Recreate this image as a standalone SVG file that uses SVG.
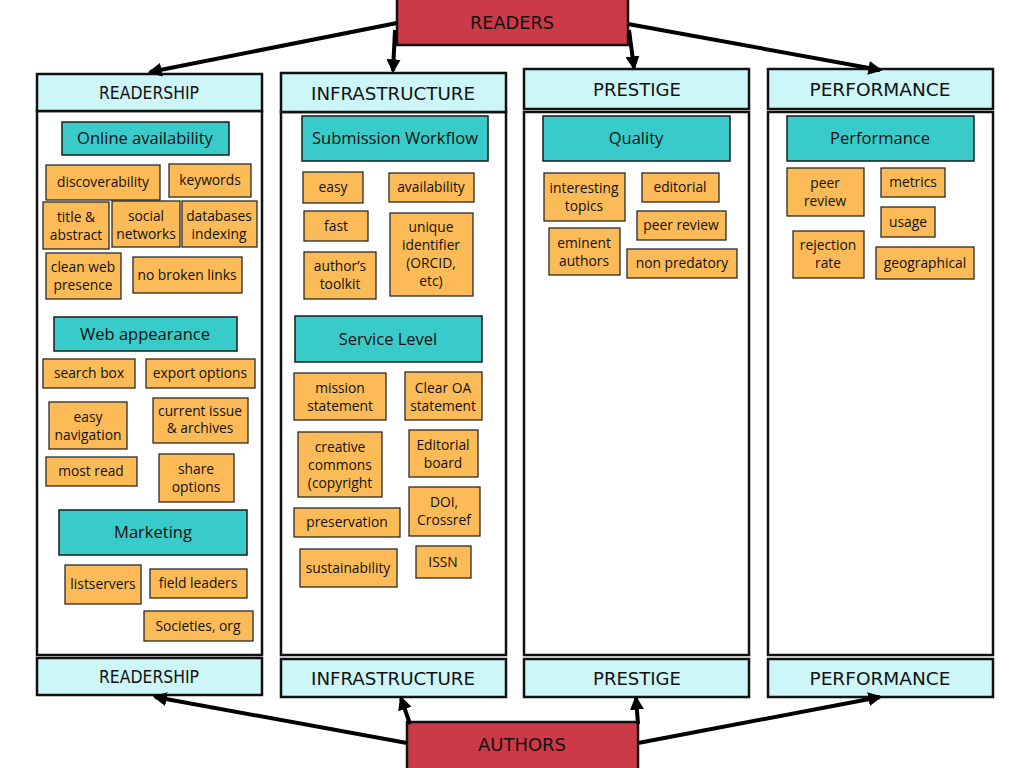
<svg xmlns="http://www.w3.org/2000/svg" width="1024" height="768" viewBox="0 0 1024 768">
<style>
.bg{fill:#ffffff}
.col{fill:#ffffff;stroke:#111;stroke-width:2.5}
.hdr{fill:#ccf6f7;stroke:#111;stroke-width:2.5}
.main{fill:#cc3a48;stroke:#111;stroke-width:2.5}
.cat{fill:#39cbca;stroke:#1a1a1a;stroke-width:1.5}
.it{fill:#fdbb57;stroke:#2a2a2a;stroke-width:1.3}
.ht{font-family:"DejaVu Sans Condensed","DejaVu Sans",sans-serif;font-size:18px;fill:#111;text-anchor:middle}
.ct{font-family:"Open Sans","Noto Sans",sans-serif;font-size:16.5px;fill:#111;text-anchor:middle}
.tt{font-family:"Open Sans","Noto Sans",sans-serif;font-size:13.8px;fill:#111;text-anchor:middle}
.con{stroke:#000;stroke-width:4;fill:none;marker-end:url(#ah)}
</style>
<defs>
<marker id="ah" viewBox="0 0 12 12" refX="10" refY="6" markerWidth="14" markerHeight="14" orient="auto" markerUnits="userSpaceOnUse"><path d="M0,0 L12,6 L0,12 z" fill="#000"/></marker>
</defs>
<rect class="bg" x="0" y="0" width="1024" height="768"/>

<g id="col-readership">
<rect class="col" x="37" y="111" width="225" height="544"/>
<rect class="hdr" x="37" y="74" width="225" height="37"/>
<text class="ht" x="149" y="99" font-size="16" textLength="100" lengthAdjust="spacingAndGlyphs">READERSHIP</text>
<rect class="hdr" x="37" y="658" width="225" height="37"/>
<text class="ht" x="149" y="683" font-size="16" textLength="100" lengthAdjust="spacingAndGlyphs">READERSHIP</text>
</g>
<g id="col-infrastructure">
<rect class="col" x="281" y="112" width="225" height="543"/>
<rect class="hdr" x="281" y="73" width="225" height="39"/>
<text class="ht" x="393" y="100" textLength="164" lengthAdjust="spacingAndGlyphs">INFRASTRUCTURE</text>
<rect class="hdr" x="281" y="659" width="225" height="38"/>
<text class="ht" x="393" y="685" textLength="164" lengthAdjust="spacingAndGlyphs">INFRASTRUCTURE</text>
</g>
<g id="col-prestige">
<rect class="col" x="524" y="112" width="225" height="543"/>
<rect class="hdr" x="524" y="69" width="225" height="40"/>
<text class="ht" x="637" y="96" textLength="88" lengthAdjust="spacingAndGlyphs">PRESTIGE</text>
<rect class="hdr" x="524" y="659" width="225" height="38"/>
<text class="ht" x="637" y="685" textLength="88" lengthAdjust="spacingAndGlyphs">PRESTIGE</text>
</g>
<g id="col-performance">
<rect class="col" x="768" y="112" width="225" height="543"/>
<rect class="hdr" x="768" y="69" width="225" height="40"/>
<text class="ht" x="880" y="96" textLength="141" lengthAdjust="spacingAndGlyphs">PERFORMANCE</text>
<rect class="hdr" x="768" y="659" width="225" height="38"/>
<text class="ht" x="880" y="685" textLength="141" lengthAdjust="spacingAndGlyphs">PERFORMANCE</text>
</g>

<g id="readers">
<rect class="main" x="397" y="-2" width="231" height="47"/>
<text class="ht" x="512" y="29" textLength="84" lengthAdjust="spacingAndGlyphs">READERS</text>
</g>
<g id="authors">
<rect class="main" x="407" y="722" width="231" height="48"/>
<text class="ht" x="522" y="751" textLength="88" lengthAdjust="spacingAndGlyphs">AUTHORS</text>
</g>

<g id="connectors">
<line class="con" x1="397" y1="23" x2="150" y2="72"/>
<line class="con" x1="395" y1="30" x2="393" y2="71"/>
<line class="con" x1="629" y1="30" x2="634" y2="68"/>
<line class="con" x1="628" y1="24" x2="880" y2="70"/>
<line class="con" x1="407" y1="743" x2="155" y2="697"/>
<line class="con" x1="410" y1="724" x2="401" y2="698"/>
<line class="con" x1="638" y1="724" x2="636" y2="698"/>
<line class="con" x1="638" y1="743" x2="880" y2="697"/>
</g>

<!-- Column 1 -->
<g id="online-availability"><rect class="cat" x="62" y="122" width="167" height="33"/><text class="ct" x="145" y="144">Online availability</text></g>
<g id="discoverability"><rect class="it" x="46" y="165" width="114" height="35"/><text class="tt" x="103" y="187">discoverability</text></g>
<g id="keywords"><rect class="it" x="169" y="164" width="82" height="33"/><text class="tt" x="210" y="185">keywords</text></g>
<g id="title-abstract"><rect class="it" x="43" y="202" width="66" height="47"/><text class="tt" x="76" y="222">title &amp;</text><text class="tt" x="76" y="240">abstract</text></g>
<g id="social-networks"><rect class="it" x="112" y="201" width="68" height="46"/><text class="tt" x="146" y="221">social</text><text class="tt" x="146" y="239">networks</text></g>
<g id="databases-indexing"><rect class="it" x="182" y="201" width="75" height="46"/><text class="tt" x="219" y="221">databases</text><text class="tt" x="219" y="239">indexing</text></g>
<g id="clean-web"><rect class="it" x="46" y="253" width="75" height="46"/><text class="tt" x="83" y="272">clean web</text><text class="tt" x="83" y="290">presence</text></g>
<g id="no-broken-links"><rect class="it" x="133" y="257" width="109" height="36"/><text class="tt" x="187" y="280">no broken links</text></g>

<g id="web-appearance"><rect class="cat" x="54" y="317" width="183" height="34"/><text class="ct" x="145" y="340">Web appearance</text></g>
<g id="search-box"><rect class="it" x="43" y="359" width="92" height="29"/><text class="tt" x="89" y="378">search box</text></g>
<g id="export-options"><rect class="it" x="146" y="359" width="109" height="29"/><text class="tt" x="200" y="378">export options</text></g>
<g id="easy-navigation"><rect class="it" x="49" y="402" width="78" height="47"/><text class="tt" x="88" y="422">easy</text><text class="tt" x="88" y="440">navigation</text></g>
<g id="current-issue"><rect class="it" x="153" y="398" width="95" height="45"/><text class="tt" x="200" y="416" font-size="12">current issue</text><text class="tt" x="200" y="433" font-size="12">&amp; archives</text></g>
<g id="most-read"><rect class="it" x="46" y="457" width="91" height="29"/><text class="tt" x="91" y="476">most read</text></g>
<g id="share-options"><rect class="it" x="159" y="454" width="75" height="48"/><text class="tt" x="196" y="474">share</text><text class="tt" x="196" y="492">options</text></g>

<g id="marketing"><rect class="cat" x="59" y="510" width="188" height="45"/><text class="ct" x="153" y="538">Marketing</text></g>
<g id="listservers"><rect class="it" x="65" y="565" width="76" height="39"/><text class="tt" x="103" y="589">listservers</text></g>
<g id="field-leaders"><rect class="it" x="150" y="569" width="97" height="29"/><text class="tt" x="198" y="588">field leaders</text></g>
<g id="societies"><rect class="it" x="144" y="611" width="109" height="30"/><text class="tt" x="198" y="631">Societies, org</text></g>

<!-- Column 2 -->
<g id="submission-workflow"><rect class="cat" x="302" y="116" width="186" height="45"/><text class="ct" x="395" y="144">Submission Workflow</text></g>
<g id="easy"><rect class="it" x="303" y="172" width="60" height="31"/><text class="tt" x="333" y="192">easy</text></g>
<g id="availability"><rect class="it" x="389" y="173" width="85" height="29"/><text class="tt" x="431" y="192">availability</text></g>
<g id="fast"><rect class="it" x="304" y="211" width="64" height="30"/><text class="tt" x="336" y="231">fast</text></g>
<g id="unique-identifier"><rect class="it" x="390" y="213" width="83" height="83"/><text class="tt" x="431" y="232">unique</text><text class="tt" x="431" y="250">identifier</text><text class="tt" x="431" y="268">(ORCID,</text><text class="tt" x="431" y="286">etc)</text></g>
<g id="authors-toolkit"><rect class="it" x="304" y="252" width="72" height="47"/><text class="tt" x="340" y="271">author’s</text><text class="tt" x="340" y="289">toolkit</text></g>

<g id="service-level"><rect class="cat" x="295" y="316" width="187" height="46"/><text class="ct" x="388" y="345">Service Level</text></g>
<g id="mission-statement"><rect class="it" x="294" y="373" width="92" height="47"/><text class="tt" x="340" y="393">mission</text><text class="tt" x="340" y="411">statement</text></g>
<g id="clear-oa"><rect class="it" x="405" y="372" width="77" height="48"/><text class="tt" x="443" y="393">Clear OA</text><text class="tt" x="443" y="411">statement</text></g>
<g id="creative-commons"><rect class="it" x="298" y="432" width="84" height="65"/><text class="tt" x="340" y="452">creative</text><text class="tt" x="340" y="470">commons</text><text class="tt" x="340" y="488">(copyright</text></g>
<g id="editorial-board"><rect class="it" x="409" y="430" width="69" height="47"/><text class="tt" x="443" y="450">Editorial</text><text class="tt" x="443" y="468">board</text></g>
<g id="preservation"><rect class="it" x="294" y="508" width="106" height="29"/><text class="tt" x="347" y="527">preservation</text></g>
<g id="doi-crossref"><rect class="it" x="409" y="487" width="71" height="49"/><text class="tt" x="444" y="507">DOI,</text><text class="tt" x="444" y="525">Crossref</text></g>
<g id="sustainability"><rect class="it" x="300" y="549" width="97" height="38"/><text class="tt" x="348" y="573">sustainability</text></g>
<g id="issn"><rect class="it" x="416" y="546" width="55" height="32"/><text class="tt" x="443" y="567">ISSN</text></g>

<!-- Column 3 -->
<g id="quality"><rect class="cat" x="543" y="116" width="187" height="45"/><text class="ct" x="636" y="144">Quality</text></g>
<g id="interesting-topics"><rect class="it" x="544" y="173" width="81" height="48"/><text class="tt" x="584" y="193">interesting</text><text class="tt" x="584" y="211">topics</text></g>
<g id="editorial"><rect class="it" x="642" y="173" width="77" height="29"/><text class="tt" x="680" y="192">editorial</text></g>
<g id="peer-review-q"><rect class="it" x="637" y="211" width="89" height="29"/><text class="tt" x="681" y="230">peer review</text></g>
<g id="eminent-authors"><rect class="it" x="549" y="228" width="71" height="47"/><text class="tt" x="584" y="248">eminent</text><text class="tt" x="584" y="266">authors</text></g>
<g id="non-predatory"><rect class="it" x="627" y="249" width="110" height="29"/><text class="tt" x="682" y="268">non predatory</text></g>

<!-- Column 4 -->
<g id="performance-cat"><rect class="cat" x="787" y="116" width="187" height="45"/><text class="ct" x="880" y="144">Performance</text></g>
<g id="peer-review-p"><rect class="it" x="787" y="168" width="77" height="48"/><text class="tt" x="825" y="188">peer</text><text class="tt" x="825" y="206">review</text></g>
<g id="metrics"><rect class="it" x="881" y="168" width="64" height="29"/><text class="tt" x="913" y="187">metrics</text></g>
<g id="usage"><rect class="it" x="881" y="207" width="54" height="30"/><text class="tt" x="908" y="227">usage</text></g>
<g id="rejection-rate"><rect class="it" x="793" y="231" width="71" height="47"/><text class="tt" x="828" y="250">rejection</text><text class="tt" x="828" y="268">rate</text></g>
<g id="geographical"><rect class="it" x="876" y="247" width="98" height="32"/><text class="tt" x="925" y="268">geographical</text></g>
</svg>
